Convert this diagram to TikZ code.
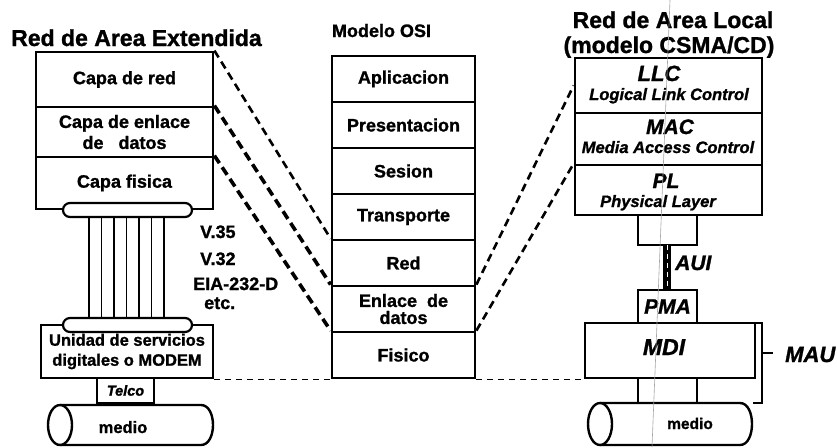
\documentclass[tikz,border=0pt]{standalone}
\usepackage{fontspec}
\setmainfont[BoldFeatures={FakeBold=1.2},BoldItalicFeatures={FakeBold=1.2}]{Liberation Sans}
\newcommand\fnt[2]{\fontsize{#1}{#2}\selectfont}
\begin{document}
\begin{tikzpicture}[x=1pt,y=-1pt,
  box/.style={draw, line width=2.8pt, inner sep=0pt, align=center, font=\bfseries\fnt{18}{21}},
  lab/.style={inner sep=0pt, anchor=base, font=\bfseries\fnt{#1}{#1}},
  itl/.style={inner sep=0pt, anchor=base, font=\bfseries\itshape\fnt{#1}{#1}},
  pill/.style={draw, line width=2.2pt, fill=white, rounded corners=7pt, minimum width=129pt, minimum height=14pt, inner sep=0pt},
  dthick/.style={line width=3.6pt, dash pattern=on 9pt off 5pt},
  dthin/.style={line width=2.6pt, dash pattern=on 8pt off 5pt},
  dhor/.style={line width=1.8pt, dash pattern=on 6pt off 5pt},
  wire/.style={line width=1.6pt},
  cyl/.style={line width=2.4pt}
]
\fill[white] (0,0) rectangle (837,447);
\useasboundingbox (0,0) rectangle (837,447);

% titles
\node[lab=23] (t1) at (136.5,46) {Red de Area Extendida};
\node[lab=18] (t2) at (381.5,37) {Modelo OSI};
\node[lab=23] (t3) at (673,28) {Red de Area Local};
\node[lab=23] (t4) at (669,53) {(modelo CSMA/CD)};

% WAN stack
\node[box, minimum width=177pt, minimum height=55pt] (wred) at (124.5,79.5) {Capa de red};
\node[box, minimum width=177pt, minimum height=50pt] (wenl) at (124.5,132) {Capa de enlace\\de\ \ \ datos};
\node[box, minimum width=177pt, minimum height=52pt] (wfis) at (124.5,183) {Capa fisica};

% DSU / modem
\node[box, minimum width=172pt, minimum height=53pt, font=\bfseries\fnt{16.5}{20}] (dsu) at (127,351.5) {Unidad de servicios\\digitales o MODEM};
\node[box, minimum width=57pt, minimum height=25pt, font=\bfseries\itshape\fnt{14.5}{16}] (telco) at (125.5,390.5) {Telco};

% wires between pills
\node[pill] (pa) at (127.5,210) {};
\node[pill] (pb) at (127.5,325) {};
\foreach \x in {89,101.5,114,126.5,139,151.5,164}
  \draw[wire] (\x,0 |- pa.south) -- (\x,0 |- pb.north);

% interface labels
\node[lab=18, anchor=base west] (v35) at (200,238) {V.35};
\node[lab=18, anchor=base west] (v32) at (200,265) {V.32};
\node[lab=18, anchor=base west] (eia) at (193,290) {EIA-232-D};
\node[lab=18, anchor=base west] (etc) at (204,309) {etc.};

% left medium
\draw[cyl] (60,405) -- (201,405) .. controls (217,405) and (217,445) .. (201,445) -- (60,445);
\draw[cyl, fill=white] (60,425) ellipse [x radius=12, y radius=20];
\node[lab=16.5] (med1) at (123,433) {medio};

% OSI stack
\node[box, minimum width=143pt, minimum height=46pt] (osi1) at (403.5,79) {Aplicacion};
\node[box, minimum width=143pt, minimum height=46pt] (osi2) at (403.5,125) {Presentacion};
\node[box, minimum width=143pt, minimum height=46pt] (osi3) at (403.5,171) {Sesion};
\node[box, minimum width=143pt, minimum height=46pt] (osi4) at (403.5,217) {Transporte};
\node[box, minimum width=143pt, minimum height=46pt] (osi5) at (403.5,263) {Red};
\node[box, minimum width=143pt, minimum height=46pt, font=\bfseries\fnt{18}{17}] (osi6) at (403.5,309) {Enlace\ \ de\\datos};
\node[box, minimum width=143pt, minimum height=46pt] (osi7) at (403.5,355) {Fisico};

% LAN stack
\node[box, minimum width=187pt, minimum height=55pt] (llc) at (668.5,85.5) {};
\node[box, minimum width=187pt, minimum height=52pt] (mac) at (668.5,139) {};
\node[box, minimum width=187pt, minimum height=50pt] (pl) at (668.5,190) {};
\node[itl=22] (llcA) at (659,81) {LLC};
\node[itl=16.5] (llcB) at (669,100) {Logical Link Control};
\node[itl=21] (macA) at (670,134) {MAC};
\node[itl=16.5] (macB) at (668,153) {Media Access Control};
\node[itl=21] (plA) at (666,188) {PL};
\node[itl=16.5] (plB) at (658,207) {Physical Layer};

\node[box, minimum width=59pt, minimum height=30pt] (c1) at (667.5,230) {};
\node[fill=black, minimum width=8pt, minimum height=45pt, inner sep=0pt] (aui) at (667,267.5) {};
\draw[white, line width=0.8pt, dash pattern=on 5pt off 4pt] (aui.north) -- (aui.south);
\node[itl=21, anchor=base west] (auit) at (675,270) {AUI};
\node[box, minimum width=59pt, minimum height=33pt, font=\bfseries\itshape\fnt{21}{21}] (pma) at (667.5,306.5) {PMA};
\node[box, minimum width=170pt, minimum height=55pt] (mdi) at (670,350.5) {};
\node[itl=23] (mdit) at (664,355) {MDI};
\node[box, minimum width=59pt, minimum height=25pt] (c2) at (667.5,390.5) {};

% MAU bracket
\draw[line width=2.2pt] (753,323) -- (762,323) -- (762,403) -- (753,403);
\draw[line width=2.2pt] (762,353) -- (773,353);
\node[itl=22, anchor=base west] (mau) at (785,362) {MAU};

% right medium
\draw[cyl] (600,403) -- (740,403) .. controls (756,403) and (756,445) .. (740,445) -- (600,445);
\draw[cyl, fill=white] (600,424) ellipse [x radius=12, y radius=21];
\node[lab=15.5] (med2) at (690,429) {medio};

% correspondences
\draw[dthin] (wred.north east) -- (osi5.north west);
\draw[dthick] (wenl.north east) -- (osi6.north west);
\draw[dthick] (wfis.north east) -- (osi7.north west);
\draw[dthin] (osi6.north east) -- (llc.west);
\draw[dthin] (osi7.north east) -- (pl.north west);
\draw[dhor] (dsu.south east) -- (osi7.south west);
\draw[dhor] (osi7.south east) -- (mdi.south west);

% scan line
\draw[gray!70, line width=0.6pt] (670,0) -- (652,447);
\end{tikzpicture}
\end{document}
